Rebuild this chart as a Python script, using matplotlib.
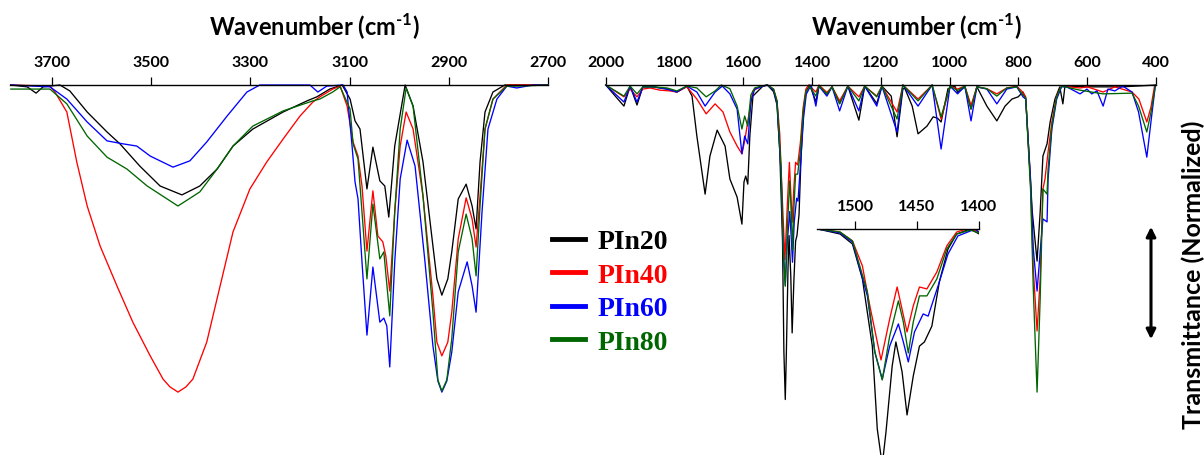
import matplotlib.pyplot as plt
from matplotlib.patches import FancyArrowPatch

# fonts: bold sans for the axes, bold serif for the legend
plt.rcParams['font.family'] = ['Lato', 'DejaVu Sans']
plt.rcParams['font.weight'] = 'bold'
plt.rcParams['mathtext.fontset'] = 'custom'
plt.rcParams['mathtext.rm'] = 'Lato:bold'
plt.rcParams['mathtext.bf'] = 'Lato:bold'

names = ['PIn20', 'PIn40', 'PIn60', 'PIn80']
colors = ['black', '#ff0000', '#0000ff', '#006600']

# ---- high wavenumber region (3785 - 2700 cm-1), normalized transmittance ----
pin20_hi_wn = [3783, 3750, 3732, 3718, 3684, 3664, 3629, 3609, 3589, 3563, 3523, 3482, 3438, 3402, 3367,
               3335, 3295, 3234, 3186, 3166, 3140, 3115, 3099, 3089, 3079, 3065, 3053, 3039, 3029, 3021,
               3009, 2988, 2972, 2952, 2932, 2924, 2914, 2902, 2894, 2881, 2865, 2853, 2845, 2837, 2827,
               2811, 2787, 2700]
pin20_hi_t = [100, 99.5, 97.8, 99.5, 100, 98.4, 92.7, 90.0, 87.3, 84.1, 78.1, 72.7, 70.3, 72.7, 77.3,
              83.5, 88.1, 92.7, 95.7, 96.8, 98.9, 100, 96.2, 90.3, 88.1, 71.9, 83.2, 74.1, 72.7, 64.3,
              83.5, 100, 94.3, 79.2, 56.5, 47.6, 43.2, 47.6, 54.9, 69.2, 73.2, 67.3, 61.1, 79.2, 92.7,
              98.1, 100, 100]

pin40_hi_wn = [3783, 3704, 3694, 3670, 3650, 3629, 3603, 3569, 3537, 3502, 3476, 3462, 3446, 3430, 3416,
               3388, 3361, 3335, 3301, 3267, 3234, 3200, 3174, 3160, 3134, 3119, 3105, 3093, 3083, 3075,
               3065, 3053, 3043, 3033, 3027, 3019, 3009, 2998, 2986, 2972, 2952, 2932, 2924, 2914, 2902,
               2894, 2881, 2865, 2853, 2845, 2837, 2827, 2811, 2783, 2700]
pin40_hi_t = [100, 99.7, 98.1, 92.7, 79.2, 67.3, 56.5, 45.7, 35.9, 26.8, 20.5, 18.4, 17.0, 18.4, 20.5,
              30.5, 45.7, 60.3, 71.9, 79.2, 85.4, 91.6, 95.4, 96.8, 98.9, 99.7, 94.3, 84.6, 80.8, 72.7,
              55.1, 71.4, 59.2, 57.6, 53.8, 44.3, 65.7, 83.5, 92.7, 88.1, 70.0, 43.0, 30.5, 26.8, 30.5,
              38.6, 58.4, 69.5, 63.8, 56.2, 70.0, 88.1, 96.2, 100, 100]

pin60_hi_wn = [3783, 3704, 3670, 3629, 3589, 3557, 3529, 3502, 3456, 3422, 3388, 3347, 3307, 3281, 3180,
               3164, 3146, 3113, 3105, 3095, 3089, 3083, 3075, 3065, 3053, 3039, 3031, 3025, 3019, 3009,
               2998, 2984, 2968, 2948, 2932, 2922, 2914, 2904, 2894, 2881, 2863, 2853, 2845, 2833, 2821,
               2803, 2783, 2763, 2730, 2700]
pin60_hi_t = [100, 99.5, 96.2, 90.0, 84.9, 84.1, 83.5, 80.8, 77.8, 79.5, 84.6, 91.6, 98.1, 100, 100,
              98.1, 99.7, 100, 98.1, 83.5, 73.8, 69.2, 52.2, 32.4, 50.8, 35.9, 37.0, 34.9, 23.8, 52.2,
              74.6, 85.1, 78.1, 52.2, 29.5, 20.0, 17.0, 20.0, 27.8, 44.1, 52.2, 45.7, 38.6, 65.7, 88.1,
              96.2, 99.7, 99.2, 100, 100]

pin80_hi_wn = [3783, 3724, 3704, 3670, 3629, 3589, 3549, 3508, 3446, 3402, 3367, 3335, 3295, 3234, 3174,
               3160, 3134, 3119, 3099, 3093, 3083, 3075, 3065, 3053, 3039, 3031, 3019, 3009, 2998, 2986,
               2972, 2952, 2932, 2922, 2914, 2904, 2894, 2881, 2865, 2853, 2845, 2837, 2827, 2811, 2783,
               2763, 2700]
pin80_hi_t = [98.9, 98.9, 98.9, 94.9, 86.2, 80.5, 77.3, 72.7, 67.3, 71.1, 77.3, 83.5, 88.9, 93.0, 95.7,
              96.2, 98.1, 99.5, 93.5, 84.1, 80.0, 65.7, 47.6, 67.8, 53.0, 54.9, 37.6, 65.7, 88.1, 99.2,
              94.3, 70.0, 38.6, 20.3, 17.3, 20.3, 31.4, 54.9, 65.1, 58.4, 48.4, 67.3, 88.1, 96.2, 99.7,
              99.7, 100]

# ---- fingerprint region (2000 - 400 cm-1) ----
pin20_lo_wn = [2000, 1947, 1929, 1909, 1892, 1862, 1822, 1793, 1764, 1749, 1735, 1711, 1697, 1676, 1653,
               1639, 1618, 1604, 1598, 1593, 1587, 1581, 1572, 1557, 1543, 1530, 1512, 1502, 1494, 1486,
               1482, 1478, 1475, 1470, 1467, 1462, 1458, 1453, 1448, 1444, 1438, 1432, 1425, 1418, 1407,
               1389, 1380, 1357, 1342, 1320, 1296, 1264, 1247, 1212, 1197, 1170, 1153, 1136, 1130, 1109,
               1092, 1066, 1048, 1035, 1025, 1005, 985, 977, 956, 938, 921, 892, 863, 839, 819,
               801, 787, 779, 771, 760, 746, 737, 729, 717, 708, 694, 680, 671, 665, 600,
               500, 400]
pin20_lo_t = [100, 94.3, 99.7, 94.6, 99.5, 99.5, 98.9, 98.1, 99.7, 97.0, 86.2, 70.5, 80.8, 87.8, 83.5,
              74.6, 69.7, 62.4, 73.8, 75.4, 73.2, 86.2, 97.0, 98.4, 99.7, 100, 98.2, 94.6, 82.0, 57.8,
              27.9, 15.0, 26.8, 50.6, 59.3, 48.5, 33.0, 47.0, 57.8, 59.3, 65.0, 80.9, 92.8, 98.2, 100,
              95.5, 99.7, 97.5, 99.5, 95.0, 99.7, 90.5, 99.7, 95.0, 99.7, 97.0, 86.0, 99.0, 99.0, 94.3,
              86.8, 88.9, 91.4, 91.0, 90.0, 99.0, 99.7, 98.0, 99.5, 93.5, 99.5, 94.3, 90.3, 94.3, 96.2,
              96.8, 98.1, 96.2, 83.5, 65.7, 52.4, 65.7, 80.8, 84.1, 90.0, 96.2, 99.5, 94.9, 99.7, 99.5,
              99.5, 100]

pin40_lo_wn = [2000, 1947, 1929, 1909, 1892, 1871, 1842, 1813, 1793, 1764, 1735, 1708, 1682, 1659, 1639,
               1618, 1604, 1596, 1581, 1572, 1552, 1530, 1512, 1502, 1494, 1488, 1479, 1472, 1466, 1458,
               1453, 1448, 1442, 1434, 1426, 1418, 1410, 1389, 1380, 1357, 1342, 1320, 1296, 1264, 1247,
               1212, 1197, 1153, 1136, 1092, 1051, 1025, 999, 977, 956, 938, 921, 892, 863, 834,
               805, 787, 779, 765, 757, 746, 737, 729, 723, 714, 703, 689, 675, 621, 600,
               554, 520, 470, 450, 427, 415, 405, 400]
pin40_lo_t = [100, 96.8, 98.9, 96.8, 98.9, 99.2, 98.6, 98.4, 98.1, 99.5, 96.2, 92.2, 94.9, 92.7, 87.3,
              83.5, 81.4, 84.9, 93.5, 98.4, 99.5, 100, 98.9, 95.7, 86.7, 72.3, 52.8, 67.6, 79.1, 62.9,
              72.3, 79.1, 78.4, 84.5, 93.9, 98.9, 100, 98.1, 100, 98.0, 99.5, 95.7, 99.7, 96.8, 99.7,
              97.0, 99.7, 92.7, 100, 96.2, 100, 90.8, 99.7, 98.9, 99.7, 94.5, 99.5, 99.0, 97.6, 99.2,
              99.7, 98.0, 96.8, 73.2, 50.3, 33.5, 47.6, 71.9, 74.6, 81.9, 90.0, 97.0, 99.7, 99.2, 99.5,
              98.1, 99.5, 98.1, 96.2, 90.0, 94.0, 99.5, 100]

pin60_lo_wn = [2000, 1947, 1929, 1909, 1892, 1862, 1822, 1793, 1764, 1735, 1711, 1682, 1661, 1639, 1618,
               1604, 1596, 1587, 1578, 1567, 1548, 1530, 1512, 1502, 1490, 1484, 1478, 1472, 1465, 1461,
               1457, 1452, 1445, 1441, 1433, 1425, 1417, 1403, 1389, 1380, 1357, 1342, 1320, 1296, 1264,
               1247, 1212, 1197, 1153, 1136, 1092, 1051, 1025, 999, 977, 956, 938, 921, 892, 863,
               834, 805, 787, 779, 765, 757, 746, 737, 729, 717, 714, 703, 689, 675, 660,
               621, 601, 587, 572, 554, 540, 520, 497, 470, 451, 427, 414, 402, 400]
pin60_lo_t = [100, 95.4, 99.7, 95.4, 99.5, 99.5, 98.9, 98.1, 99.7, 98.1, 94.3, 98.1, 99.7, 97.6, 93.5,
              81.4, 86.2, 84.1, 95.4, 98.9, 99.5, 100, 98.6, 95.3, 75.9, 55.7, 45.9, 57.8, 65.8, 59.3,
              52.1, 62.9, 69.4, 68.6, 79.5, 91.0, 97.5, 100, 94.3, 99.7, 97.0, 99.5, 93.0, 99.7, 93.0,
              99.7, 94.3, 99.7, 87.3, 100, 94.3, 100, 82.7, 99.7, 97.6, 99.7, 90.3, 99.5, 98.9, 94.9,
              98.9, 99.5, 96.8, 96.2, 74.6, 55.7, 44.3, 54.9, 63.8, 63.0, 74.6, 88.1, 96.2, 99.5, 99.5,
              97.6, 98.9, 97.6, 98.4, 94.3, 98.9, 98.4, 99.7, 98.1, 92.7, 80.5, 90.8, 100, 100]

pin80_lo_wn = [2000, 1947, 1929, 1909, 1892, 1862, 1822, 1793, 1764, 1735, 1708, 1682, 1664, 1639, 1618,
               1604, 1596, 1587, 1578, 1567, 1548, 1530, 1512, 1502, 1490, 1484, 1478, 1472, 1465, 1461,
               1457, 1453, 1448, 1442, 1434, 1426, 1418, 1407, 1389, 1380, 1357, 1342, 1320, 1296, 1264,
               1247, 1212, 1197, 1153, 1136, 1092, 1051, 1025, 999, 977, 956, 938, 921, 892, 863,
               834, 805, 787, 779, 765, 757, 746, 737, 729, 717, 714, 703, 689, 675, 621,
               554, 470, 451, 427, 414, 402, 400]
pin80_lo_t = [100, 97.0, 99.7, 97.6, 99.5, 99.5, 99.2, 98.4, 99.7, 99.2, 96.8, 98.4, 100, 99.0, 94.3,
              88.1, 91.6, 88.9, 97.3, 99.2, 99.7, 100, 98.9, 95.7, 77.3, 55.7, 45.6, 61.4, 74.1, 66.5,
              55.3, 66.5, 75.9, 75.9, 82.0, 92.8, 98.2, 99.6, 97.0, 99.8, 97.6, 99.5, 94.9, 99.7, 95.7,
              99.7, 96.8, 99.7, 90.8, 100, 95.7, 100, 91.4, 99.7, 98.5, 99.7, 93.5, 99.5, 99.0, 97.0,
              99.2, 99.5, 97.3, 96.5, 71.9, 44.9, 17.0, 42.2, 71.9, 70.5, 77.3, 88.9, 96.8, 99.7, 98.6,
              97.6, 97.8, 94.3, 87.3, 93.0, 100, 100]

hi_wn = [pin20_hi_wn, pin40_hi_wn, pin60_hi_wn, pin80_hi_wn]
hi_t = [pin20_hi_t, pin40_hi_t, pin60_hi_t, pin80_hi_t]
lo_wn = [pin20_lo_wn, pin40_lo_wn, pin60_lo_wn, pin80_lo_wn]
lo_t = [pin20_lo_t, pin40_lo_t, pin60_lo_t, pin80_lo_t]

W, H = 1204, 456
fig = plt.figure(figsize=(W / 100, H / 100), dpi=100)


def px(x, y, w, h):
    # pixel box (top-left origin) -> figure fraction
    return [x / W, 1 - (y + h) / H, w / W, h / H]


def style(ax, ticks):
    ax.set_facecolor('none')
    for s in ['left', 'right', 'bottom']:
        ax.spines[s].set_visible(False)
    ax.spines['top'].set_linewidth(1.0)
    ax.xaxis.tick_top()
    ax.set_xticks(ticks)
    ax.set_yticks([])
    ax.tick_params(axis='x', direction='out', length=6, width=0.9, pad=5.5, labelsize=11.5)
    for lab in ax.get_xticklabels():
        lab.set_fontweight('bold')


ax1 = fig.add_axes(px(9.8, 86, 538.2, 370))
ax2 = fig.add_axes(px(605.7, 86, 550.4, 370))
ax3 = fig.add_axes(px(817, 230, 162, 226))

lines = []
for i in range(4):
    ax1.plot(hi_wn[i], hi_t[i], color=colors[i], lw=0.95, clip_on=False)
    ln, = ax2.plot(lo_wn[i], lo_t[i], color=colors[i], lw=0.95, clip_on=False, label=names[i])
    ax3.plot(lo_wn[i], lo_t[i], color=colors[i], lw=0.95)
    lines.append(ln)

ax1.set_xlim(3785, 2700)
ax1.set_ylim(0, 100)
style(ax1, [3700, 3500, 3300, 3100, 2900, 2700])

ax2.set_xlim(2000, 400)
ax2.set_ylim(0, 100)
style(ax2, [2000, 1800, 1600, 1400, 1200, 1000, 800, 600, 400])

# inset: zoom on the 1530-1400 band
ax3.set_xlim(1530.6, 1400)
ax3.set_ylim(18.56, 100)
style(ax3, [1500, 1450, 1400])

title = r'Wavenumber (cm$^{\text{-}1}$)'
fig.text(314 / W, 1 - 27 / H, title, ha='center', va='center', fontsize=17, fontweight='bold')
fig.text(916 / W, 1 - 27 / H, title, ha='center', va='center', fontsize=17, fontweight='bold')

fig.text(1193 / W, 1 - 275 / H, 'Transmittance (Normalized)', rotation=90,
         ha='center', va='center', fontsize=18, fontweight='bold')
fig.add_artist(FancyArrowPatch(
    (1151 / W, 1 - 343 / H), (1151 / W, 1 - 225 / H), transform=fig.transFigure,
    arrowstyle='<|-|>', mutation_scale=14, lw=2.2, color='black'))

leg = fig.legend(handles=lines, loc='upper left', bbox_to_anchor=(552 / W, 1 - 230 / H),
                 frameon=False, prop={'family': 'Liberation Serif', 'weight': 'bold', 'size': 20},
                 handlelength=1.2, handletextpad=0.45, labelspacing=0.29,
                 borderpad=0, borderaxespad=0, labelcolor='linecolor')
for h in leg.legend_handles:
    h.set_linewidth(3.5)

plt.savefig('out.png', dpi=100)
